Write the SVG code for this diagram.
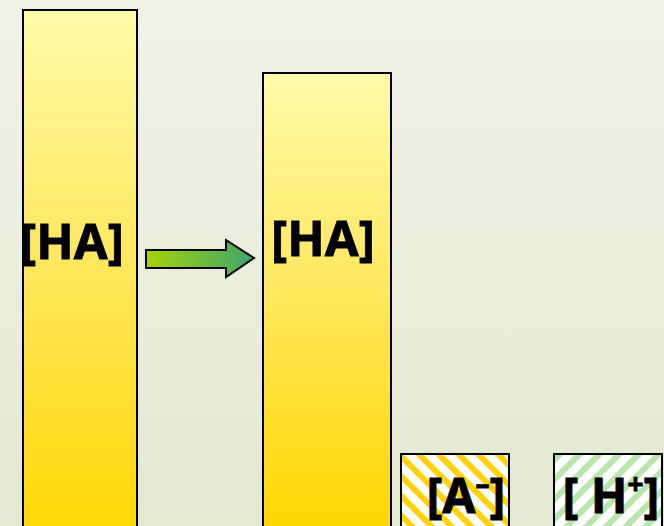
<svg xmlns="http://www.w3.org/2000/svg" width="664" height="526" viewBox="0 0 664 526">
<defs>
<linearGradient id="bg" x1="0" y1="0" x2="0" y2="1">
<stop offset="0" stop-color="#f0f2e6"/>
<stop offset="1" stop-color="#e4e9d2"/>
</linearGradient>
<linearGradient id="bar" x1="0" y1="0" x2="0" y2="1">
<stop offset="0" stop-color="#fffba8"/>
<stop offset="0.5" stop-color="#ffe65a"/>
<stop offset="1" stop-color="#ffd700"/>
</linearGradient>
<linearGradient id="bar2" gradientUnits="userSpaceOnUse" x1="0" y1="73" x2="0" y2="526">
<stop offset="0" stop-color="#fffba8"/>
<stop offset="0.5" stop-color="#ffe65a"/>
<stop offset="1" stop-color="#ffd700"/>
</linearGradient>
<linearGradient id="arr" x1="0" y1="0" x2="1" y2="0">
<stop offset="0" stop-color="#a6d20a"/>
<stop offset="1" stop-color="#3fa66e"/>
</linearGradient>
<pattern id="ystripe" patternUnits="userSpaceOnUse" width="14" height="14" patternTransform="rotate(-45)">
<rect width="14" height="14" fill="#ffffff"/>
<rect width="6" height="14" fill="#ffd20a"/>
</pattern>
<pattern id="gstripe" patternUnits="userSpaceOnUse" width="14" height="14" patternTransform="rotate(45)">
<rect width="14" height="14" fill="#ffffff"/>
<rect width="6" height="14" fill="#b8e6ac"/>
</pattern>
</defs>
<style>
.box{stroke:#000;stroke-width:2}
.lbl{font-family:"Noto Sans","DejaVu Sans",sans-serif;font-weight:bold;fill:#000;text-anchor:middle;stroke:#000;stroke-width:0.8}
</style>
<rect width="664" height="526" fill="url(#bg)"/>
<g id="ha1">
<rect class="box" x="23" y="10" width="114" height="530" fill="url(#bar)"/>
<text class="lbl" x="72" y="259" font-size="49">[HA]</text>
</g>
<g id="ha2">
<rect class="box" x="263" y="73" width="128" height="470" fill="url(#bar2)"/>
<text class="lbl" x="323" y="256" font-size="49">[HA]</text>
</g>
<g id="a">
<rect class="box" x="401" y="454" width="108" height="90" fill="url(#ystripe)"/>
<text class="lbl" x="466" y="513" font-size="48">[A<tspan font-size="28" dy="-19">–</tspan><tspan dy="19">]</tspan></text>
</g>
<g id="h">
<rect class="box" x="554" y="454" width="108" height="90" fill="url(#gstripe)"/>
<text class="lbl" x="611" y="513" font-size="48">[ H<tspan font-size="28" dy="-19">+</tspan><tspan dy="19">]</tspan></text>
</g>
<g id="connectors">
<path d="M146 250 H226 V240 L254 258 L226 277 V268 H146 Z" fill="url(#arr)" stroke="#000" stroke-width="2" stroke-linejoin="miter"/>
</g>
</svg>
